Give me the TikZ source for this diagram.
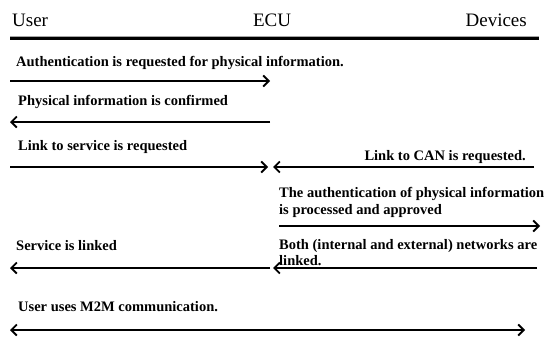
\documentclass[tikz,border=0pt]{standalone}
\usepackage{fontspec}
\setmainfont{Liberation Serif}
\usetikzlibrary{arrows.meta}
\begin{document}
\begin{tikzpicture}[x=1pt,y=-1pt,
  hdr/.style={inner sep=0pt,font=\fontsize{19}{22}\selectfont},
  msg/.style={inner sep=0pt,anchor=base west,font=\fontsize{14.5}{17}\selectfont\bfseries},
  tip/.style={},
  arr/.style={line width=1.7pt,-{Straight Barb[length=5.5pt,width=11pt,line width=1.8pt]}},
  darr/.style={line width=1.7pt,{Straight Barb[length=5.5pt,width=11pt,line width=1.8pt]}-{Straight Barb[length=5.5pt,width=11pt,line width=1.8pt]}}]
\clip (0,0) rectangle (548,348);
\fill[white] (0,0) rectangle (548,348);
% header
\node[hdr,anchor=base west] (user) at (12,26) {User};
\node[hdr,anchor=base] (ecu) at (272,26) {ECU};
\node[hdr,anchor=base east] (dev) at (527,26) {Devices};
\coordinate (hl) at (10,38.5);
\coordinate (hr) at (539,38.5);
\draw[line width=2.2pt] (hl) -- (hr);
\draw[line width=0.8pt,black!35] ([yshift=1.9pt]hl) -- ([yshift=1.9pt]hr);
% messages
\node[msg] (m1) at (16,66) {Authentication is requested for physical information.};
\coordinate (a1s) at (10,81); \coordinate (a1e) at (270,81);
\draw[arr] (a1s) -- (a1e);
\node[msg] (m2) at (18,105) {Physical information is confirmed};
\coordinate (a2s) at (270,122); \coordinate (a2e) at (10,122);
\draw[arr] (a2s) -- (a2e);
\node[msg] (m3) at (18,150) {Link to service is requested};
\node[msg,anchor=base east] (m4) at (526,160) {Link to CAN is requested.};
\coordinate (a3s) at (10,167); \coordinate (a3e) at (268,167);
\draw[arr] (a3s) -- (a3e);
\coordinate (a4s) at (534,167); \coordinate (a4e) at (273,167);
\draw[arr] (a4s) -- (a4e);
\node[msg] (m5) at (279,197) {The authentication of physical information};
\node[msg] (m5b) at (279,214) {is processed and approved};
\coordinate (a5s) at (279,226); \coordinate (a5e) at (540,226);
\draw[arr] (a5s) -- (a5e);
\node[msg] (m6) at (16,250) {Service is linked};
\node[msg] (m7) at (279,249) {\makebox[258pt][s]{Both (internal and external) networks are}};
\node[msg] (m7b) at (279,265) {linked.};
\coordinate (a6s) at (270,268); \coordinate (a6e) at (10,268);
\draw[arr] (a6s) -- (a6e);
\coordinate (a7s) at (537,268); \coordinate (a7e) at (273,268);
\draw[arr] (a7s) -- (a7e);
\node[msg] (m8) at (18,311) {User uses M2M communication.};
\coordinate (a8s) at (10,330); \coordinate (a8e) at (525,330);
\draw[darr] (a8s) -- (a8e);
\end{tikzpicture}
\end{document}
